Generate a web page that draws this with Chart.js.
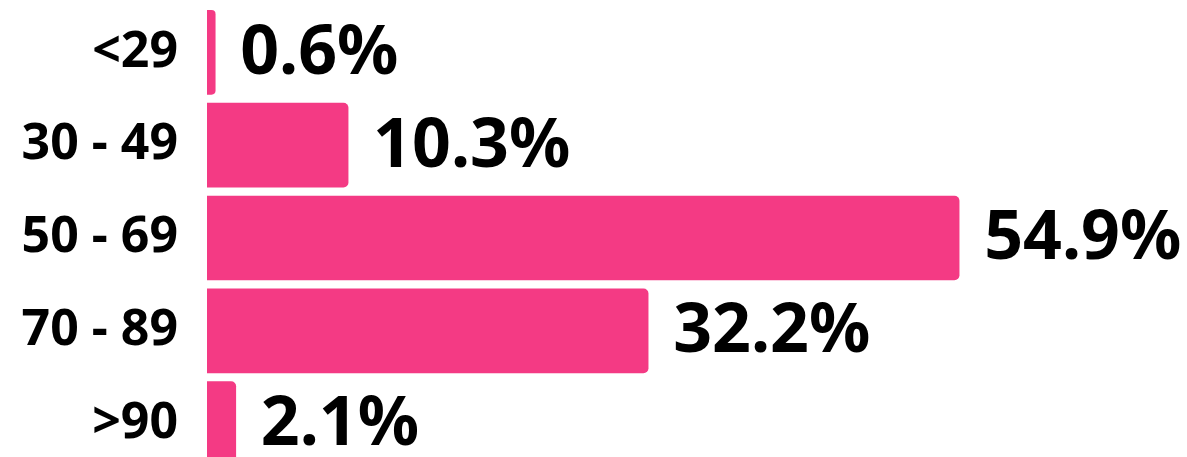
<!DOCTYPE html>
<html>
<head>
<meta charset="utf-8">
<script src="https://cdn.jsdelivr.net/npm/chart.js@4"></script>
<style>
  html, body { margin: 0; padding: 0; background: #fff; overflow: hidden; }
  #wrap { width: 1187px; height: 470px; position: relative; }
</style>
</head>
<body>
<div id="wrap"><canvas id="chart"></canvas></div>
<script>
const categories = ['<29', '30 - 49', '50 - 69', '70 - 89', '>90'];
const shares = [0.6, 10.3, 54.9, 32.2, 2.1];

// draws the big percentage next to each bar
const valueLabels = {
  id: 'valueLabels',
  afterDatasetsDraw(chart) {
    const ctx = chart.ctx;
    const meta = chart.getDatasetMeta(0);
    ctx.save();
    ctx.font = 'bold 68px "Noto Sans"';
    ctx.fillStyle = '#000';
    ctx.textAlign = 'left';
    ctx.textBaseline = 'middle';
    meta.data.forEach((bar, i) => {
      ctx.fillText(shares[i].toFixed(1) + '%', bar.x + 25, bar.y + 2);
    });
    ctx.restore();
  }
};

new Chart(document.getElementById('chart'), {
  type: 'bar',
  data: {
    labels: categories,
    datasets: [{
      data: shares,
      backgroundColor: '#F43A84',
      barThickness: 84,
      borderRadius: { topRight: 5, bottomRight: 5, topLeft: 0, bottomLeft: 0 },
      borderSkipped: 'start'
    }]
  },
  options: {
    indexAxis: 'y',
    responsive: true,
    maintainAspectRatio: false,
    animation: false,
    layout: { padding: { top: 6, right: 158, left: 0, bottom: 0 } },
    plugins: { legend: { display: false }, tooltip: { enabled: false } },
    scales: {
      x: {
        display: false,
        min: 0,
        max: 60
      },
      y: {
        grid: { display: false, drawTicks: false },
        border: { display: false },
        ticks: {
          color: '#000',
          padding: 29,
          font: { family: 'Noto Sans', weight: 'bold', size: 50 }
        },
        afterFit(scale) {
          scale.width = 207;
          scale.paddingTop = 0;
          scale.paddingBottom = 0;
        }
      }
    }
  },
  plugins: [valueLabels]
});
</script>
</body>
</html>
